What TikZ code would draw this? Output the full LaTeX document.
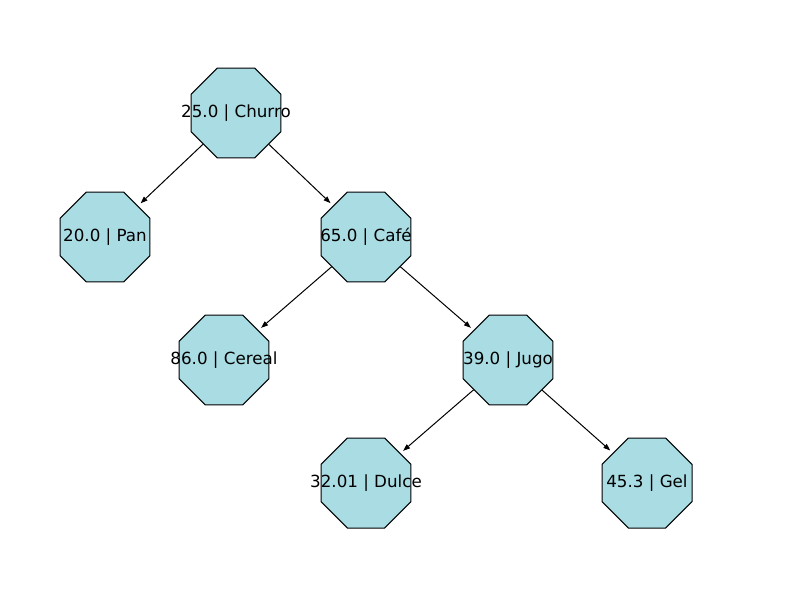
\documentclass[tikz,border=0pt]{standalone}
\usepackage{fontspec}
\setmainfont{DejaVu Sans}
\usetikzlibrary{shapes.geometric,arrows.meta}
\definecolor{nodefill}{RGB}{169,220,227}
\newcommand{\lbl}[1]{\makebox[0pt][c]{\raisebox{-1pt}{#1}}}
\tikzset{
  treenode/.style={regular polygon, regular polygon sides=8, minimum size=97.4pt,
    inner sep=0pt, draw=black, line width=1pt, fill=nodefill,
    font=\fontsize{16.7pt}{19pt}\selectfont, text=black},
  edge/.style={line width=1pt, -{Triangle[length=7pt,width=5pt]}, shorten >=3.5pt}
}
\begin{document}
\begin{tikzpicture}[x=1pt,y=-1pt]
  \useasboundingbox (0,0) rectangle (800,600);
  \node[treenode] (churro) at (236,113) {\lbl{25.0 | Churro}};
  \node[treenode] (pan)    at (105,237) {\lbl{20.0 | Pan}};
  \node[treenode] (cafe)   at (366,237) {\lbl{65.0 | Café}};
  \node[treenode] (cereal) at (224,360) {\lbl{86.0 | Cereal}};
  \node[treenode] (jugo)   at (508,360) {\lbl{39.0 | Jugo}};
  \node[treenode] (dulce)  at (366,483) {\lbl{32.01 | Dulce}};
  \node[treenode] (gel)    at (647,483) {\lbl{45.3 | Gel}};
  \draw[edge] (churro) -- (pan);
  \draw[edge] (churro) -- (cafe);
  \draw[edge] (cafe) -- (cereal);
  \draw[edge] (cafe) -- (jugo);
  \draw[edge] (jugo) -- (dulce);
  \draw[edge] (jugo) -- (gel);
\end{tikzpicture}
\end{document}
